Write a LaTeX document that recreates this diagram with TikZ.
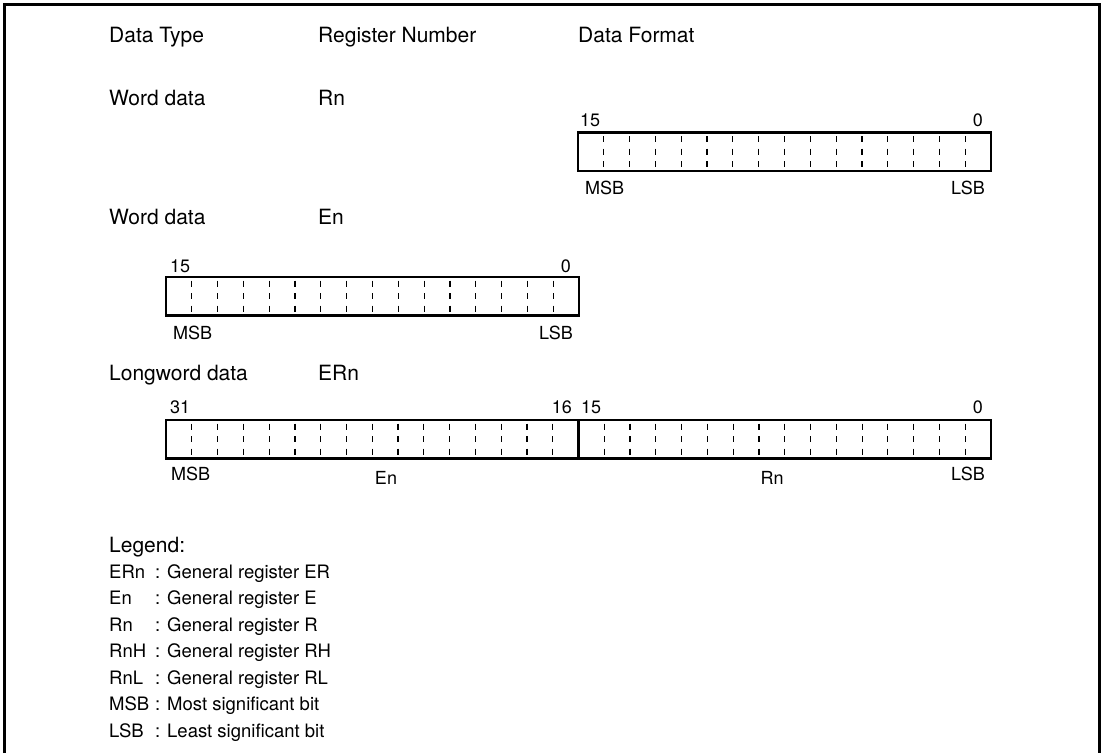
\documentclass[tikz,border=0pt]{standalone}
\usepackage{fontspec}
\setmainfont{TeX Gyre Heros}
\begin{document}
\begin{tikzpicture}[x=1pt,y=-1pt,
  big/.style={anchor=base west, inner sep=0pt, font=\fontsize{21}{24}\selectfont},
  small/.style={anchor=base west, inner sep=0pt, font=\fontsize{18}{21}\selectfont},
  smallr/.style={anchor=base east, inner sep=0pt, font=\fontsize{18}{21}\selectfont},
  smallc/.style={anchor=base, inner sep=0pt, font=\fontsize{18}{21}\selectfont},
  legitem/.style={anchor=base west, inner sep=0pt, font=\fontsize{18.5}{21}\selectfont},
  regbox/.style={draw, line width=2.6pt, anchor=north west, minimum height=38.5pt, inner sep=0pt, outer sep=0pt},
  bitsep/.style={line width=1.2pt, dash pattern=on 6pt off 6.5pt},
  frameline/.style={line width=3pt}]
\useasboundingbox (0,0) rectangle (1103,753);
\draw[frameline] (4,753) -- (4,4) -- (1099,4) -- (1099,753);
% headers
\node[big] (hType) at (109,42.5) {Data Type};
\node[big] (hReg) at (318,42.5) {Register Number};
\node[big] (hFmt) at (578,42.5) {Data Format};
% row 1
\node[big] (t1) at (109,105.5) {Word data};
\node[big] (r1) at (318,105.5) {Rn};
\node[regbox, minimum width=413pt] (b1) at (578,132.5) {};
\foreach \i in {1,...,15}
  \draw[bitsep] ([xshift=\i*25.8125pt,yshift=-3.5pt]b1.north west) -- ([xshift=\i*25.8125pt,yshift=3.5pt]b1.south west);
\node[small] (b1h) at (580,126.5) {15};
\node[smallr] (b1l) at (983,126.5) {0};
\node[small] (b1m) at (585,194.5) {MSB};
\node[smallr] (b1s) at (985,194.5) {LSB};
% row 2
\node[big] (t2) at (109,224.5) {Word data};
\node[big] (r2) at (318,224.5) {En};
\node[regbox, minimum width=413pt] (b2) at (166,277) {};
\foreach \i in {1,...,15}
  \draw[bitsep] ([xshift=\i*25.8125pt,yshift=-3.5pt]b2.north west) -- ([xshift=\i*25.8125pt,yshift=3.5pt]b2.south west);
\node[small] (b2h) at (170,272.5) {15};
\node[smallr] (b2l) at (571,272.5) {0};
\node[small] (b2m) at (173,339.5) {MSB};
\node[smallr] (b2s) at (573,339.5) {LSB};
% row 3
\node[big] (t3) at (109,380.5) {Longword data};
\node[big] (r3) at (318,380.5) {ERn};
\node[regbox, minimum width=825pt] (b3) at (166,420) {};
\foreach \i in {1,...,15,17,18,...,31}
  \draw[bitsep] ([xshift=\i*25.78125pt,yshift=-3.5pt]b3.north west) -- ([xshift=\i*25.78125pt,yshift=3.5pt]b3.south west);
\draw[line width=2.6pt] ([xshift=412.5pt]b3.north west) -- ([xshift=412.5pt]b3.south west);
\node[small] (b3h) at (170,413.5) {31};
\node[smallr] (b3m16) at (572,413.5) {16};
\node[small] (b3m15) at (581,413.5) {15};
\node[smallr] (b3l) at (983,413.5) {0};
\node[small] (b3m) at (171,480.5) {MSB};
\node[smallc] (b3e) at (386,484.5) {En};
\node[smallc] (b3r) at (772,484.5) {Rn};
\node[smallr] (b3s) at (985,480.5) {LSB};
% legend
\node[big] (lg) at (109,552.5) {Legend:};
\foreach \k/\d/\y [count=\n] in {ERn/General register ER/578, En/General register E/604.5, Rn/General register R/631, RnH/General register RH/657.5, RnL/General register RL/684, MSB/Most significant bit/710.5, LSB/Least significant bit/737}{
  \node[legitem] (lk\n) at (109,\y) {\k};
  \node[legitem] (ld\n) at (155,\y) {: \d};
}
\end{tikzpicture}
\end{document}
